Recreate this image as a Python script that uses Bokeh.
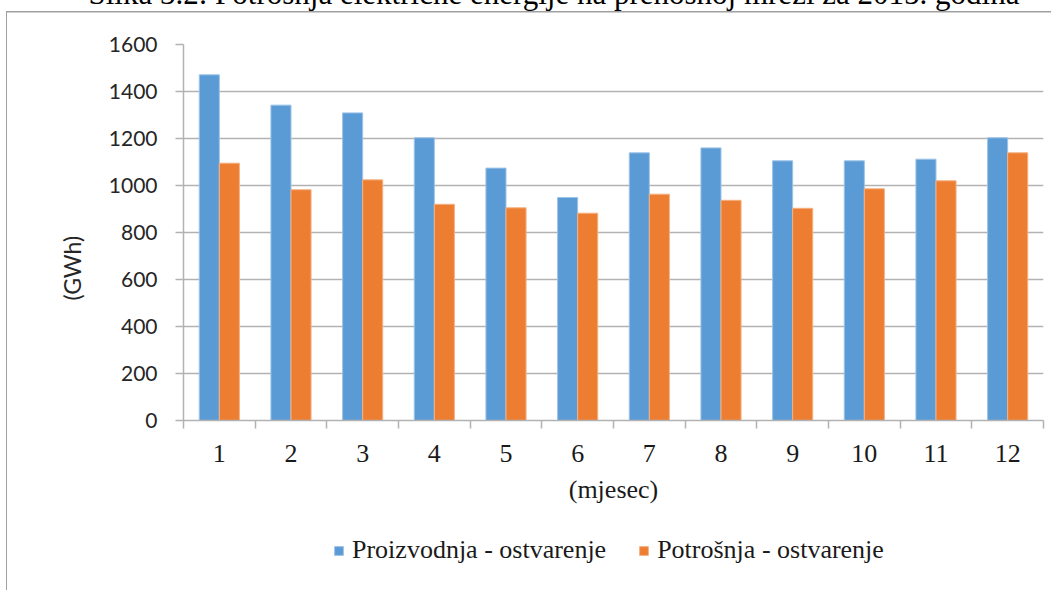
from bokeh.plotting import figure
from bokeh.models import (Range1d, FixedTicker, Legend, LegendItem, Title,
                          ColumnDataSource)
from bokeh.layouts import column
from bokeh.transform import dodge
from bokeh.embed import file_html
from bokeh.resources import INLINE

months = list(range(1, 13))
month_labels = [str(m) for m in months]
proizvodnja = [1471, 1342, 1309, 1203, 1074, 949, 1139, 1160, 1105, 1105, 1112, 1203]
potrosnja = [1095, 982, 1024, 920, 905, 882, 963, 937, 903, 986, 1020, 1139]
y_ticks = [0, 200, 400, 600, 800, 1000, 1200, 1400, 1600]
series_names = ["Proizvodnja - ostvarenje", "Potrošnja - ostvarenje"]
title_text = "Slika 3.2: Potrošnja električne energije na prenosnoj mreži za 2015. godina"
y_title = "(GWh)"
x_title = "(mjesec)"

BLUE = "#5B9BD5"
ORANGE = "#ED7D31"
GRID = "#b2b2b2"
BORDER = "#a0a0a0"
SERIF = "Liberation Serif"
bw = 0.28
SHIFT = 64  # part of the page above the window (title is cut off there)


def left_border(top):
    return (f"linear-gradient(90deg, rgba(255,255,255,0) 6px, {BORDER} 6px, {BORDER} 7.5px, "
            f"rgba(255,255,255,0) 7.5px) 0px {top}px / 100% 100% no-repeat")


# ---- main chart ----
top_line = 11 + SHIFT
p = figure(width=1051, height=520 + SHIFT, output_backend="svg", toolbar_location=None,
           title=None, x_range=Range1d(0.5, 12.5), y_range=Range1d(0, 1600),
           min_border_left=183, min_border_right=8, min_border_top=44 + SHIFT,
           min_border_bottom=100,
           styles={"background": (
               f"linear-gradient({BORDER}, {BORDER}) 6px {top_line - 0.5}px / 100% 1.5px no-repeat, "
               + left_border(top_line))})
p.outline_line_color = None
p.background_fill_color = "white"
p.border_fill_alpha = 0

src = ColumnDataSource(dict(x=months, a=proizvodnja, b=potrosnja))
r1 = p.vbar(x=dodge("x", -bw / 2), top="a", width=bw, source=src, fill_color=BLUE,
            line_color="#9dc3e6", line_width=1)
r2 = p.vbar(x=dodge("x", bw / 2), top="b", width=bw, source=src, fill_color=ORANGE,
            line_color="#f4b183", line_width=1)

ya = p.yaxis[0]
ya.ticker = FixedTicker(ticks=y_ticks)
ya.major_label_text_font = "Lato"
ya.major_label_text_font_size = "21px"
ya.major_label_text_color = "#262626"
ya.major_tick_out = 8
ya.major_tick_in = 0
ya.minor_tick_line_color = None
ya.axis_line_color = GRID
ya.axis_line_width = 1.5
ya.major_tick_line_color = GRID
ya.major_tick_line_width = 1.5
ya.major_label_standoff = 18

xa = p.xaxis[0]
xa.ticker = FixedTicker(ticks=months, minor_ticks=[m + 0.5 for m in [0] + months])
xa.major_label_overrides = {m: l for m, l in zip(months, month_labels)}
xa.major_tick_out = 0
xa.major_tick_in = 0
xa.minor_tick_out = 8
xa.minor_tick_in = 0
xa.minor_tick_line_color = GRID
xa.minor_tick_line_width = 1.5
xa.axis_line_color = GRID
xa.axis_line_width = 1.5
xa.major_label_text_font = SERIF
xa.major_label_text_font_size = "26px"
xa.major_label_text_color = "#1a1a1a"
xa.major_label_standoff = 16
xa.axis_label = x_title
xa.axis_label_text_font = SERIF
xa.axis_label_text_font_size = "26px"
xa.axis_label_text_font_style = "normal"
xa.axis_label_text_color = "#1a1a1a"
xa.axis_label_standoff = 10

p.xgrid.grid_line_color = None
p.ygrid.grid_line_color = GRID
p.ygrid.grid_line_width = 1.5
p.ygrid.ticker = FixedTicker(ticks=y_ticks)

p.add_layout(Title(text=y_title, align="left", offset=120, standoff=40,
                   vertical_align="bottom", text_font="Lato", text_font_size="23px",
                   text_font_style="normal", text_color="#262626"), "left")

p.add_layout(Title(text=title_text, align="left", offset=-95, standoff=68,
                   vertical_align="bottom", text_font=SERIF, text_font_size="31px",
                   text_font_style="normal", text_color="black"), "above")

# ---- bottom strip: legend ----
p2 = figure(width=1051, height=70, output_backend="svg", toolbar_location=None,
            title=None, x_range=Range1d(0, 1051), y_range=Range1d(0, 70),
            x_axis_location=None, y_axis_location=None, min_border=0,
            styles={"background": left_border(0)})
p2.outline_line_color = None
p2.grid.visible = False
p2.background_fill_alpha = 0
p2.border_fill_alpha = 0
# legend proxies (kept entirely outside the visible range)
d1 = p2.vbar(x=[500], top=[-20], bottom=[-30], width=1, fill_color=BLUE,
             line_color="#9dc3e6")
d2 = p2.vbar(x=[500], top=[-20], bottom=[-30], width=1, fill_color=ORANGE,
             line_color="#f4b183")
legend = Legend(items=[LegendItem(label=series_names[0], renderers=[d1]),
                       LegendItem(label=series_names[1], renderers=[d2])],
                orientation="horizontal", location=(150, 25))
legend.label_text_font = SERIF
legend.label_text_font_size = "26px"
legend.label_text_color = "#1a1a1a"
legend.glyph_width = 11
legend.glyph_height = 11
legend.label_standoff = 8
legend.spacing = 32
legend.border_line_color = None
legend.background_fill_alpha = 0
legend.padding = 0
legend.margin = 0
p2.add_layout(legend, "center")

layout = column(p, p2, margin=(-SHIFT, 0, 0, 0))
open("out.html", "w").write(file_html(layout, INLINE))
